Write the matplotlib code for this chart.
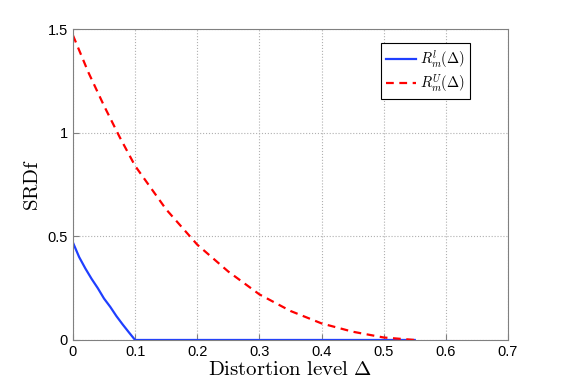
import matplotlib.pyplot as plt
import numpy as np

plt.rcParams['mathtext.fontset'] = 'cm'

# lower bound R^l_m
x_low = [0, 0.01, 0.02, 0.03, 0.04, 0.05, 0.06, 0.07, 0.08, 0.09, 0.1, 0.55]
y_low = [0.47, 0.40, 0.345, 0.295, 0.25, 0.20, 0.16, 0.115, 0.075, 0.037, 0.0, 0.0]

# upper bound R^U_m
x_up = [0, 0.025, 0.05, 0.075, 0.1, 0.15, 0.2, 0.25, 0.3, 0.35, 0.4, 0.45, 0.5, 0.55]
y_up = [1.47, 1.29, 1.13, 0.98, 0.84, 0.63, 0.46, 0.33, 0.22, 0.14, 0.08, 0.04, 0.012, 0.0]

fig = plt.figure(figsize=(5.61, 3.82), dpi=100)
ax = fig.add_axes([0.130, 0.110, 0.7755, 0.814])

ax.plot(x_low, y_low, color='#1f3fff', lw=1.6, label=r'$R_m^l(\Delta)$')
ax.plot(x_up, y_up, color='#ff0000', lw=1.6, ls=(0, (3.5, 2.5)), label=r'$R_m^U(\Delta)$')

ax.set_xlim(0, 0.7)
ax.set_ylim(0, 1.5)
ax.set_xticks(np.arange(0, 0.71, 0.1))
ax.set_xticklabels(['0', '0.1', '0.2', '0.3', '0.4', '0.5', '0.6', '0.7'])
ax.set_yticks([0, 0.5, 1, 1.5])
ax.set_yticklabels(['0', '0.5', '1', '1.5'])
ax.grid(True, ls=':', color='#b0b0b0', lw=0.8)

for s in ax.spines.values():
    s.set_color('#808080')
ax.tick_params(colors='#808080', labelcolor='black', labelsize=10.5, direction='in', length=4)
for lab in ax.get_xticklabels() + ax.get_yticklabels():
    lab.set_family('Liberation Sans')

ax.set_xlabel(r'$\mathrm{Distortion\ level}\ \Delta$', fontsize=15, labelpad=0)
ax.set_ylabel(r'$\mathrm{SRDf}$', fontsize=15, labelpad=4)

leg = ax.legend(loc='upper right', bbox_to_anchor=(0.913, 0.955), fontsize=10.5,
                fancybox=False, edgecolor='black', framealpha=1,
                handlelength=2.0, handletextpad=0.3, borderpad=0.35,
                labelspacing=0.15, borderaxespad=0)
leg.get_frame().set_linewidth(0.8)

plt.savefig('out.png', dpi=100)
